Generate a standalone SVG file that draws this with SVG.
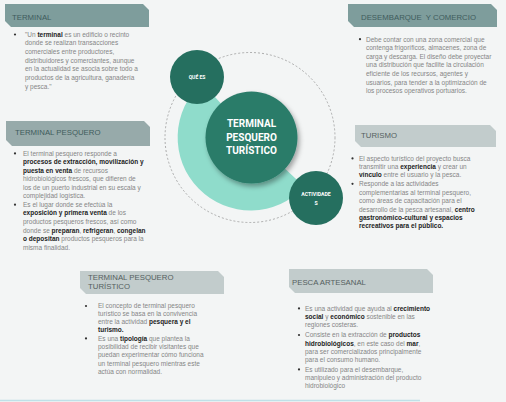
<svg xmlns="http://www.w3.org/2000/svg" width="506" height="402" viewBox="0 0 506 402">
<defs>
<style>
.bg{fill:#f3f5f5}
.hd1{fill:#7e9d9c}
.hd2{fill:#97aaaa}
.hd3{fill:#c2cccc}
.ht{font-family:"Liberation Sans",Arial,sans-serif;font-size:7.8px;fill:#3f5c5c}
.ht3{font-family:"Liberation Sans",Arial,sans-serif;font-size:7.8px;fill:#555f60}
.bt{font-family:"Liberation Sans",Arial,sans-serif;font-size:6.5px;fill:#858585}
.k{font-weight:bold;fill:#1c1c1c}
.bul{fill:#333}
.ct{font-family:Roboto,"Liberation Sans",sans-serif;font-weight:bold;fill:#ffffff;text-anchor:middle}
</style>
<filter id="sh" x="-30%" y="-30%" width="160%" height="160%">
<feDropShadow dx="2" dy="3" stdDeviation="2.5" flood-color="#000" flood-opacity="0.35"/>
</filter>
</defs>
<rect class="bg" x="0" y="0" width="506" height="402"/>
<line x1="0" y1="400.5" x2="420" y2="400.5" stroke="#bfe0e8" stroke-width="1.5"/>

<g id="connectors">
<circle cx="250" cy="137.5" r="85" fill="none" stroke="#9a9a9a" stroke-width="0.8" stroke-dasharray="2,2"/>
<path d="M251,137 L304.4,186.8 A73,73 0 1 1 202.2,82.8 Z" fill="#8fdccb"/>
</g>

<g id="node-center">
<circle cx="251.5" cy="137.5" r="46" fill="#2b7b69" filter="url(#sh)"/>
<text class="ct" font-size="10"><tspan x="251.5" y="126.8">TERMINAL</tspan><tspan x="251.5" y="140.5">PESQUERO</tspan><tspan x="251.5" y="154">TURÍSTICO</tspan></text>
</g>

<g id="node-que-es">
<circle cx="197" cy="77" r="27" fill="#256f5f"/>
<text class="ct" font-size="5" x="197" y="79">QUÉ ES</text>
</g>

<g id="node-actividades">
<circle cx="316" cy="198" r="27" fill="#256f5f"/>
<text class="ct" font-size="5.2"><tspan x="316" y="196">ACTIVIDADE</tspan><tspan x="316" y="205">S</tspan></text>
</g>

<g id="node-terminal">
<path class="hd1" d="M5,4 H143 L149,10 V27 H11 L5,21 Z"/>
<text class="ht" x="12" y="19.5">TERMINAL</text>
<circle class="bul" cx="15" cy="34.5" r="1.1"/>
<text class="bt">
<tspan x="25" y="36.6">"Un <tspan class="k">terminal</tspan> es un edificio o recinto</tspan>
<tspan x="25" y="45.3">donde se realizan transacciones</tspan>
<tspan x="25" y="54">comerciales entre productores,</tspan>
<tspan x="25" y="62.7">distribuidores y comerciantes, aunque</tspan>
<tspan x="25" y="71.4">en la actualidad se asocia sobre todo a</tspan>
<tspan x="25" y="80">productos de la agricultura, ganadería</tspan>
<tspan x="25" y="88.7">y pesca."</tspan>
</text>
</g>

<g id="node-desembarque">
<path class="hd1" d="M348,4 H491 L497,10 V27 H354 L348,21 Z"/>
<text class="ht" x="361" y="19.5" xml:space="preserve">DESEMBARQUE  Y COMERCIO</text>
<circle class="bul" cx="360" cy="39.2" r="1.1"/>
<text class="bt">
<tspan x="366" y="41.5">Debe contar con una zona comercial que</tspan>
<tspan x="366" y="50.1">contenga frigoríficos, almacenes, zona de</tspan>
<tspan x="366" y="58.7">carga y descarga. El diseño debe proyectar</tspan>
<tspan x="366" y="67.3">una distribución que facilite la circulación</tspan>
<tspan x="366" y="75.9">eficiente de los recursos, agentes y</tspan>
<tspan x="366" y="84.5">usuarios, para tender a la optimización de</tspan>
<tspan x="366" y="93.1">los procesos operativos portuarios.</tspan>
</text>
</g>

<g id="node-terminal-pesquero">
<path class="hd2" d="M6,121 H144 L150,127 V146 H12 L6,140 Z"/>
<text class="ht" x="15" y="135.3">TERMINAL PESQUERO</text>
<circle class="bul" cx="15" cy="153.4" r="1.1"/>
<circle class="bul" cx="15" cy="204.7" r="1.1"/>
<text class="bt">
<tspan x="23" y="155.6">El terminal pesquero responde a</tspan>
<tspan x="23" y="164.1" class="k">procesos de extracción, movilización y</tspan>
<tspan x="23" y="172.7"><tspan class="k">puesta en venta</tspan> de recursos</tspan>
<tspan x="23" y="181.2">hidrobiológicos frescos, que difieren de</tspan>
<tspan x="23" y="189.8">los de un puerto industrial en su escala y</tspan>
<tspan x="23" y="198.3">complejidad logística.</tspan>
<tspan x="23" y="206.9">Es el lugar donde se efectúa la</tspan>
<tspan x="23" y="215.4"><tspan class="k">exposición y primera venta</tspan> de los</tspan>
<tspan x="23" y="224">productos pesqueros frescos, así como</tspan>
<tspan x="23" y="232.5">donde se <tspan class="k">preparan</tspan>, <tspan class="k">refrigeran</tspan>, <tspan class="k">congelan</tspan></tspan>
<tspan x="23" y="241.1"><tspan class="k">o depositan</tspan> productos pesqueros para la</tspan>
<tspan x="23" y="249.6">misma finalidad.</tspan>
</text>
</g>

<g id="node-turismo">
<path class="hd3" d="M355,125 H490 L496,131 V147 H361 L355,141 Z"/>
<text class="ht3" x="361" y="137.5">TURISMO</text>
<circle class="bul" cx="352.5" cy="158.4" r="1.1"/>
<circle class="bul" cx="352.5" cy="183.8" r="1.1"/>
<text class="bt">
<tspan x="359" y="160.6">El aspecto turístico del proyecto busca</tspan>
<tspan x="359" y="169">transmitir una <tspan class="k">experiencia</tspan> y crear un</tspan>
<tspan x="359" y="177.4"><tspan class="k">vínculo</tspan> entre el usuario y la pesca.</tspan>
<tspan x="359" y="186.1">Responde a las actividades</tspan>
<tspan x="359" y="194.6">complementarias al terminal pesquero,</tspan>
<tspan x="359" y="203">como áreas de capacitación para el</tspan>
<tspan x="359" y="211.6">desarrollo de la pesca artesanal, <tspan class="k">centro</tspan></tspan>
<tspan x="359" y="220" class="k">gastronómico-cultural y espacios</tspan>
<tspan x="359" y="228.4" class="k">recreativos para el público.</tspan>
</text>
</g>

<g id="node-tpt">
<path class="hd3" d="M80,271 H218 L224,277 V294 H86 L80,288 Z"/>
<text class="ht3"><tspan x="88" y="279.8">TERMINAL PESQUERO</tspan><tspan x="88" y="288.8">TURÍSTICO</tspan></text>
<circle class="bul" cx="86" cy="306" r="1.1"/>
<circle class="bul" cx="86" cy="338.4" r="1.1"/>
<text class="bt">
<tspan x="98" y="308.3">El concepto de terminal pesquero</tspan>
<tspan x="98" y="316.3">turístico se basa en la convivencia</tspan>
<tspan x="98" y="324.2">entre la actividad <tspan class="k">pesquera y el</tspan></tspan>
<tspan x="98" y="332.3" class="k">turismo.</tspan>
<tspan x="98" y="340.6">Es una <tspan class="k">tipología</tspan> que plantea la</tspan>
<tspan x="98" y="349">posibilidad de recibir visitantes que</tspan>
<tspan x="98" y="357.3">puedan experimentar cómo funciona</tspan>
<tspan x="98" y="365.6">un terminal pesquero mientras este</tspan>
<tspan x="98" y="373.5">actúa con normalidad.</tspan>
</text>
</g>

<g id="node-pesca">
<path class="hd3" d="M289,269 H427 L433,275 V293 H295 L289,287 Z"/>
<text class="ht3" x="292" y="284.5">PESCA ARTESANAL</text>
<circle class="bul" cx="299" cy="308.4" r="1.1"/>
<circle class="bul" cx="299" cy="335" r="1.1"/>
<circle class="bul" cx="299" cy="369.4" r="1.1"/>
<text class="bt">
<tspan x="305" y="310.6">Es una actividad que ayuda al <tspan class="k">crecimiento</tspan></tspan>
<tspan x="305" y="319"><tspan class="k">social</tspan> y <tspan class="k">económico</tspan> sostenible en las</tspan>
<tspan x="305" y="327.3">regiones costeras.</tspan>
<tspan x="305" y="337.3">Consiste en la extracción de <tspan class="k">productos</tspan></tspan>
<tspan x="305" y="345.6"><tspan class="k">hidrobiológicos</tspan>, en este caso del <tspan class="k">mar</tspan>,</tspan>
<tspan x="305" y="354">para ser comercializados principalmente</tspan>
<tspan x="305" y="361.8">para el consumo humano.</tspan>
<tspan x="305" y="371.6">Es utilizado para el desembarque,</tspan>
<tspan x="305" y="380">manipuleo y administración del producto</tspan>
<tspan x="305" y="388.2">hidrobiológico</tspan>
</text>
</g>
</svg>
